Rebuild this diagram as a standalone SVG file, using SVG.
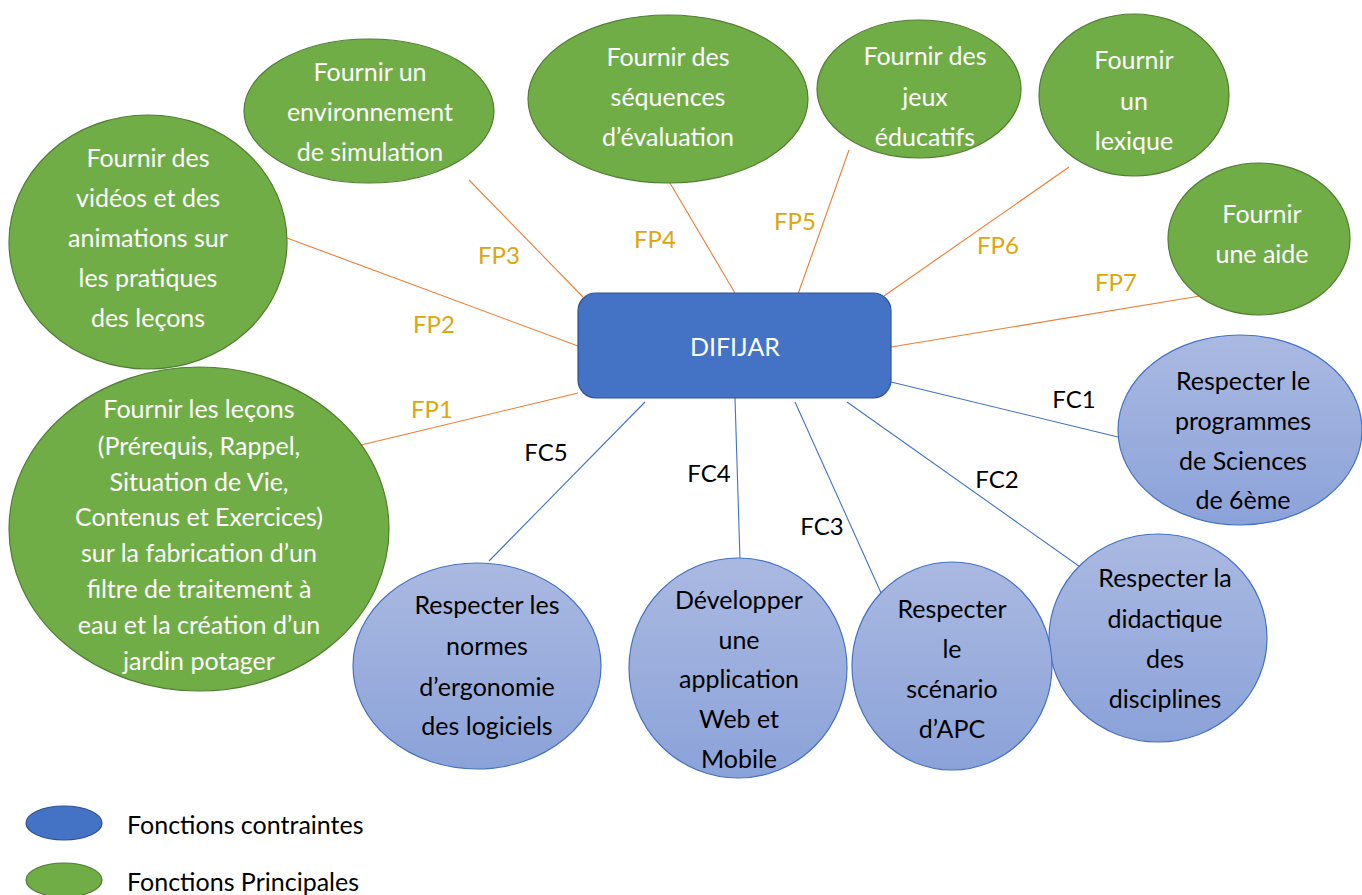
<svg xmlns="http://www.w3.org/2000/svg" width="1362" height="895" viewBox="0 0 1362 895">
<style>
text{font-family:Lato,"Open Sans","Liberation Sans",sans-serif;font-size:25px;text-anchor:middle}
.fp{fill:#70AD47;stroke:#507E32;stroke-width:1.2}
.fc{fill:url(#bg);stroke:#4472C4;stroke-width:1.2}
.w{fill:#fff}
.k{fill:#000}
.lo{stroke:#ED7D31;stroke-width:1.1;fill:none}
.lb{stroke:#4472C4;stroke-width:1.1;fill:none}
.fpl{fill:#DDA60C;font-size:24px}
.fcl{fill:#000;font-size:24px}
</style>
<defs>
<linearGradient id="bg" x1="0" y1="0" x2="0" y2="1">
<stop offset="0" stop-color="#AAB9E1"/>
<stop offset="1" stop-color="#8BA2D9"/>
</linearGradient>
</defs>
<rect width="1362" height="895" fill="#fff"/>
<g id="connectors">
<line class="lo" x1="361" y1="445" x2="578" y2="393"/>
<line class="lo" x1="287" y1="238" x2="578" y2="346"/>
<line class="lo" x1="469" y1="180" x2="583" y2="297"/>
<line class="lo" x1="670" y1="183" x2="735" y2="293"/>
<line class="lo" x1="849" y1="150" x2="797" y2="297"/>
<line class="lo" x1="1069" y1="167" x2="884" y2="296"/>
<line class="lo" x1="1200" y1="296" x2="891" y2="347"/>
<line class="lb" x1="891" y1="382" x2="1118" y2="437"/>
<line class="lb" x1="847" y1="402" x2="1083" y2="569"/>
<line class="lb" x1="795" y1="402" x2="882" y2="595"/>
<line class="lb" x1="735" y1="398" x2="740" y2="560"/>
<line class="lb" x1="645" y1="402" x2="489" y2="561"/>
<text class="fpl" x="432" y="418">FP1</text>
<text class="fpl" x="434" y="333">FP2</text>
<text class="fpl" x="499" y="264">FP3</text>
<text class="fpl" x="655" y="248">FP4</text>
<text class="fpl" x="795" y="230">FP5</text>
<text class="fpl" x="998" y="254">FP6</text>
<text class="fpl" x="1116" y="291">FP7</text>
<text class="fcl" x="1074" y="408">FC1</text>
<text class="fcl" x="997" y="488">FC2</text>
<text class="fcl" x="822" y="535">FC3</text>
<text class="fcl" x="709" y="482">FC4</text>
<text class="fcl" x="546" y="461">FC5</text>
</g>
<g id="difijar">
<rect x="578" y="293" width="313" height="105" rx="18" fill="#4472C4" stroke="#2F528F" stroke-width="1.2"/>
<text class="w" x="735" y="356" font-size="27">DIFIJAR</text>
</g>
<g id="fp1">
<ellipse class="fp" cx="199" cy="529" rx="190" ry="162"/>
<text class="w" font-size="23"><tspan x="199" y="418">Fournir les leçons</tspan><tspan x="199" y="455">(Prérequis, Rappel,</tspan><tspan x="199" y="491">Situation de Vie,</tspan><tspan x="199" y="526">Contenus et Exercices)</tspan><tspan x="199" y="562">sur la fabrication d’un</tspan><tspan x="199" y="598">filtre de traitement à</tspan><tspan x="199" y="634">eau et la création d’un</tspan><tspan x="199" y="670">jardin potager</tspan></text>
</g>
<g id="fp2">
<ellipse class="fp" cx="148" cy="242" rx="139" ry="127"/>
<text class="w"><tspan x="148" y="167">Fournir des</tspan><tspan x="148" y="207">vidéos et des</tspan><tspan x="148" y="247">animations sur</tspan><tspan x="148" y="287">les pratiques</tspan><tspan x="148" y="327">des leçons</tspan></text>
</g>
<g id="fp3">
<ellipse class="fp" cx="369" cy="111" rx="125" ry="72"/>
<text class="w"><tspan x="370" y="81">Fournir un</tspan><tspan x="370" y="121">environnement</tspan><tspan x="370" y="161">de simulation</tspan></text>
</g>
<g id="fp4">
<ellipse class="fp" cx="668" cy="99" rx="140" ry="84"/>
<text class="w"><tspan x="668" y="66">Fournir des</tspan><tspan x="668" y="106">séquences</tspan><tspan x="668" y="146">d’évaluation</tspan></text>
</g>
<g id="fp5">
<ellipse class="fp" cx="919" cy="89" rx="102" ry="69"/>
<text class="w"><tspan x="925" y="65">Fournir des</tspan><tspan x="925" y="106">jeux</tspan><tspan x="925" y="146">éducatifs</tspan></text>
</g>
<g id="fp6">
<ellipse class="fp" cx="1134" cy="95" rx="95" ry="81"/>
<text class="w"><tspan x="1134" y="69">Fournir</tspan><tspan x="1134" y="110">un</tspan><tspan x="1134" y="150">lexique</tspan></text>
</g>
<g id="fp7">
<ellipse class="fp" cx="1259" cy="239" rx="91" ry="76"/>
<text class="w"><tspan x="1262" y="223">Fournir</tspan><tspan x="1262" y="263">une aide</tspan></text>
</g>
<g id="fc1">
<ellipse class="fc" cx="1240" cy="430" rx="122" ry="95"/>
<text class="k"><tspan x="1243" y="390">Respecter le</tspan><tspan x="1243" y="430">programmes</tspan><tspan x="1243" y="470">de Sciences</tspan><tspan x="1243" y="509">de 6ème</tspan></text>
</g>
<g id="fc2">
<ellipse class="fc" cx="1158" cy="638" rx="109" ry="104"/>
<text class="k"><tspan x="1165" y="587">Respecter la</tspan><tspan x="1165" y="628">didactique</tspan><tspan x="1165" y="668">des</tspan><tspan x="1165" y="708">disciplines</tspan></text>
</g>
<g id="fc3">
<ellipse class="fc" cx="952" cy="666" rx="100" ry="104"/>
<text class="k"><tspan x="952" y="618">Respecter</tspan><tspan x="952" y="658">le</tspan><tspan x="952" y="698">scénario</tspan><tspan x="952" y="738">d’APC</tspan></text>
</g>
<g id="fc4">
<ellipse class="fc" cx="738" cy="668" rx="109" ry="110"/>
<text class="k"><tspan x="739" y="609">Développer</tspan><tspan x="739" y="649">une</tspan><tspan x="739" y="688">application</tspan><tspan x="739" y="728">Web et</tspan><tspan x="739" y="768">Mobile</tspan></text>
</g>
<g id="fc5">
<ellipse class="fc" cx="477" cy="666" rx="124" ry="103"/>
<text class="k"><tspan x="487" y="614">Respecter les</tspan><tspan x="487" y="655">normes</tspan><tspan x="487" y="696">d’ergonomie</tspan><tspan x="487" y="735">des logiciels</tspan></text>
</g>
<g id="legend">
<ellipse cx="64" cy="823" rx="38" ry="17" fill="#4472C4" stroke="#2F528F" stroke-width="1.2"/>
<ellipse cx="64" cy="880" rx="38" ry="17" fill="#70AD47" stroke="#507E32" stroke-width="1.2"/>
<text class="k" x="127" y="834" style="text-anchor:start">Fonctions contraintes</text>
<text class="k" x="127" y="891" style="text-anchor:start">Fonctions Principales</text>
</g>
</svg>
